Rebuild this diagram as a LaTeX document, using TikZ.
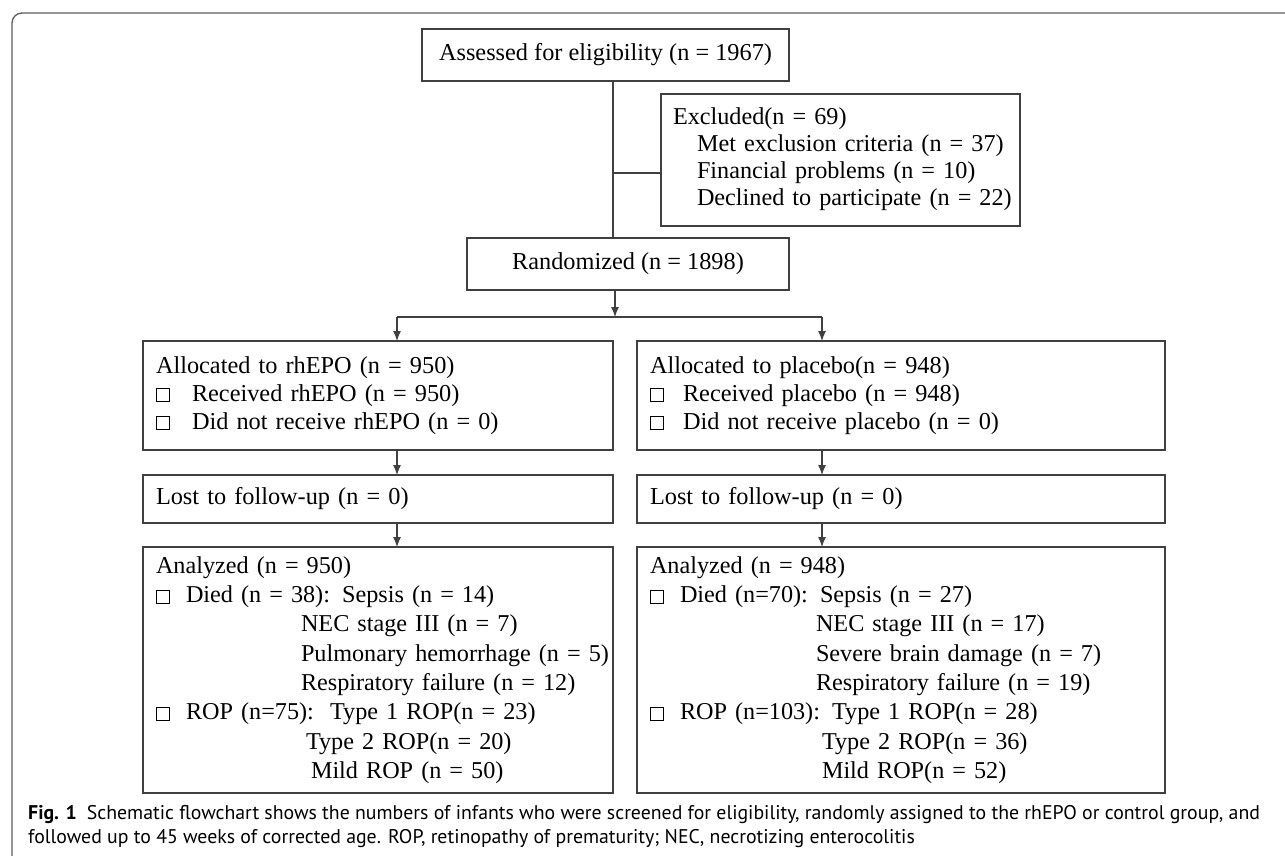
\documentclass[tikz,border=0pt]{standalone}
\usepackage{fontspec}
\setmainfont{Liberation Serif}
\newfontfamily\capfont{PT Sans}
\usetikzlibrary{arrows.meta}
\newcommand{\sqbox}{{\setlength{\fboxsep}{0pt}\setlength{\fboxrule}{1pt}\fbox{\rule{0pt}{12pt}\rule{12pt}{0pt}}}}
\newcommand{\boxlines}[1]{\begin{tabular}{@{}l@{}}#1\end{tabular}}
\definecolor{boxgray}{RGB}{64,64,64}
\definecolor{framegray}{RGB}{90,90,90}

\begin{document}
\begin{tikzpicture}[x=1pt, y=-1pt,
  box/.style={draw=boxgray, line width=1.2pt, inner xsep=13pt, inner ysep=0pt, outer sep=0pt, font=\fontsize{24.3}{28}\selectfont},
  lbox/.style={box, align=left, anchor=north west, text width=#1},
  link/.style={draw=boxgray, line width=1.2pt},
  arr/.style={link, -{Latex[length=10pt,width=8pt]}},
  capline/.style={anchor=base west, inner sep=0pt, font=\capfont\fontsize{19.8}{24}\selectfont}]
\useasboundingbox (0,0) rectangle (1285,856);
% outer frame
\draw[framegray, line width=1.3pt, rounded corners=10pt] (12,856) -- (12,13) -- (1285,13);

% screening
\node[box, minimum width=367pt, minimum height=52pt] (assessed) at (605.5,55) {Assessed for eligibility (n = 1967)};
\node[lbox=335pt, inner xsep=12pt, minimum height=132pt, font=\fontsize{24.2}{27}\selectfont] (excluded) at (661,94)
  {\boxlines{Excluded(n = 69)\\\hspace*{24pt}Met exclusion criteria (n = 37)\\\hspace*{24pt}Financial problems (n = 10)\\\hspace*{24pt}Declined to participate (n = 22)}};
\node[box, minimum width=322pt, minimum height=52pt] (random) at (628,264) {Randomized (n = 1898)};

% rhEPO arm
\node[lbox=444pt, minimum height=109pt] (allocA) at (143,341)
  {\boxlines{Allocated to rhEPO (n = 950)\\\sqbox\hspace{22pt}Received rhEPO (n = 950)\\\sqbox\hspace{22pt}Did not receive rhEPO (n = 0)}};
\node[lbox=444pt, minimum height=48pt] (lostA) at (143,475) {Lost to follow-up (n = 0)};
\node[lbox=444pt, minimum height=246pt, font=\fontsize{24.2}{29.3}\selectfont] (analysedA) at (143,547)
  {\boxlines{Analyzed (n = 950)\\
   \sqbox\hspace{16pt}Died (n = 38): Sepsis (n = 14)\\
   \hspace*{145pt}NEC stage III (n = 7)\\
   \hspace*{145pt}Pulmonary hemorrhage (n = 5)\\
   \hspace*{145pt}Respiratory failure (n = 12)\\
   \sqbox\hspace{16pt}ROP (n=75):\ \ Type 1 ROP(n = 23)\\
   \hspace*{150pt}Type 2 ROP(n = 20)\\
   \hspace*{155pt}Mild ROP (n = 50)}};

% placebo arm
\node[lbox=502pt, minimum height=109pt] (allocB) at (637,341)
  {\boxlines{Allocated to placebo(n = 948)\\\sqbox\hspace{19pt}Received placebo (n = 948)\\\sqbox\hspace{19pt}Did not receive placebo (n = 0)}};
\node[lbox=502pt, minimum height=48pt] (lostB) at (637,475) {Lost to follow-up (n = 0)};
\node[lbox=502pt, minimum height=246pt, font=\fontsize{24.2}{29.3}\selectfont] (analysedB) at (637,547)
  {\boxlines{Analyzed (n = 948)\\
   \sqbox\hspace{16pt}Died (n=70): Sepsis (n = 27)\\
   \hspace*{166pt}NEC stage III (n = 17)\\
   \hspace*{166pt}Severe brain damage (n = 7)\\
   \hspace*{166pt}Respiratory failure (n = 19)\\
   \sqbox\hspace{16pt}ROP (n=103): Type 1 ROP(n = 28)\\
   \hspace*{172pt}Type 2 ROP(n = 36)\\
   \hspace*{172pt}Mild ROP(n = 52)}};

% connectors
\coordinate (fork) at (613,173);
\coordinate (split) at (615,317);
\coordinate (splitA) at (397,317);
\coordinate (splitB) at (822,317);
\draw[link] (assessed.south -| fork) -- (random.north -| fork);
\draw[link] (fork) -- (excluded.west |- fork);
\draw[arr] (random.south -| split) -- (split);
\draw[link] (splitA) -- (splitB);
\draw[arr] (splitA) -- (allocA.north -| splitA);
\draw[arr] (splitB) -- (allocB.north -| splitB);
\draw[arr] (allocA.south -| splitA) -- (lostA.north -| splitA);
\draw[arr] (allocB.south -| splitB) -- (lostB.north -| splitB);
\draw[arr] (lostA.south -| splitA) -- (analysedA.north -| splitA);
\draw[arr] (lostB.south -| splitB) -- (analysedB.north -| splitB);

% caption
\node[capline] (capA) at (28,819) {\textbf{Fig. 1}\enspace Schematic flowchart shows the numbers of infants who were screened for eligibility, randomly assigned to the rhEPO or control group, and};
\node[capline] (capB) at (28,843) {followed up to 45 weeks of corrected age. ROP, retinopathy of prematurity; NEC, necrotizing enterocolitis};
\end{tikzpicture}
\end{document}
